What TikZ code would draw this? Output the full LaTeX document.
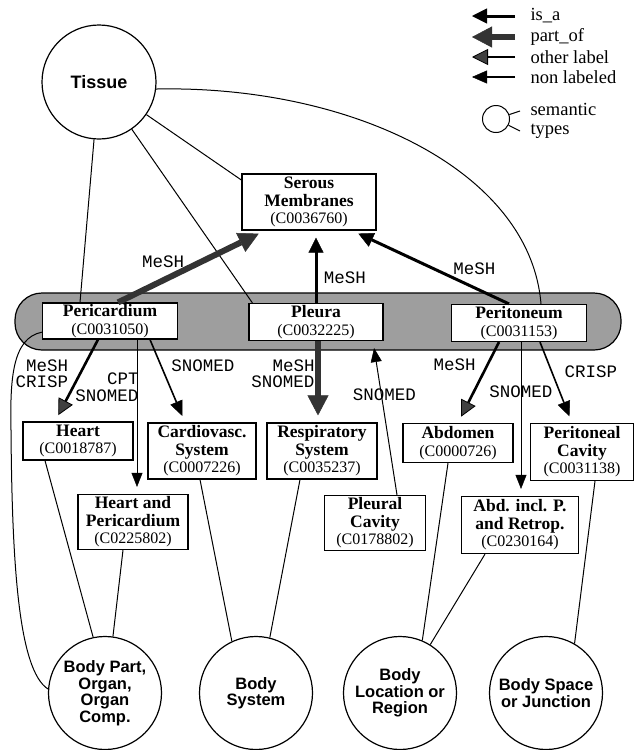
\documentclass[tikz,border=0pt]{standalone}
\usepackage{fontspec}
\setmainfont{Liberation Serif}
\setmonofont{Liberation Mono}
\newfontfamily\helv{Liberation Sans}
\usetikzlibrary{arrows.meta, calc}
\newcommand{\cname}[1]{{\fontsize{17.5}{17.5}\selectfont\bfseries #1}}

\begin{document}
\begin{tikzpicture}[
    x=1pt, y=-1pt, line width=1pt,
    cbox/.style={draw, line width=1.2pt, fill=white, inner sep=1pt, align=center, font=\fontsize{16}{17.5}\selectfont},
    stype/.style={circle, draw, line width=1.2pt, minimum size=113pt, inner sep=0pt, align=center, font=\helv\bfseries\fontsize{16.5}{16.5}\selectfont},
    src/.style={font=\ttfamily\fontsize{17.5}{16.5}\selectfont, inner sep=0pt, align=right},
    lgd/.style={anchor=west, inner sep=0pt, align=left, font=\fontsize{18.5}{18.5}\selectfont},
    isa/.style={line width=3pt, -{Triangle[length=15pt,width=15pt,line width=0.5pt]}},
    partof/.style={line width=6pt, draw=black!80, -{Triangle[length=20pt,width=21pt,line width=0.5pt]}},
    otherlbl/.style={line width=2.6pt, -{Triangle[length=16pt,width=16pt,line width=0.8pt,fill=black!75]}},
    nolbl/.style={line width=1.6pt, -{Triangle[length=15pt,width=13pt,line width=0.5pt]}},
    thinarrow/.style={line width=1pt, -{Triangle[length=14pt,width=11pt,line width=0.5pt]}},
]
\useasboundingbox (0,0) rectangle (636,750);

% shaded group of the three membranes
\draw[fill=black!38, line width=1.2pt, rounded corners=27pt] (15,293) rectangle (621,350);

% semantic types
\node[stype, minimum size=114pt, font=\helv\bfseries\fontsize{18}{18}\selectfont] (tissue) at (99,82) {Tissue};
\node[stype] (bpart) at (105,693) {Body Part,\\Organ,\\Organ\\Comp.};
\node[stype] (bsys) at (256,693) {Body\\System};
\node[stype] (bloc) at (400,693) {Body\\Location or\\Region};
\node[stype] (bspace) at (546,693) {Body Space\\or Junction};

% concepts
\node[cbox, minimum width=134pt, minimum height=56pt] (serous) at (309,202) {\cname{Serous}\\\cname{Membranes}\\(C0036760)};
\node[cbox, minimum width=135pt, minimum height=36pt] (peric) at (110,321) {\cname{Pericardium}\\(C0031050)};
\node[cbox, minimum width=134pt, minimum height=37pt] (pleura) at (316,322) {\cname{Pleura}\\(C0032225)};
\node[cbox, minimum width=135pt, minimum height=37pt] (perit) at (519,323) {\cname{Peritoneum}\\(C0031153)};
\node[cbox, minimum width=110pt, minimum height=38pt] (heart) at (78,441) {\cname{Heart}\\(C0018787)};
\node[cbox, minimum width=108pt, minimum height=56pt] (cardio) at (202,451) {\cname{Cardiovasc.}\\\cname{System}\\(C0007226)};
\node[cbox, minimum width=110pt, minimum height=56pt] (resp) at (322,451) {\cname{Respiratory}\\\cname{System}\\(C0035237)};
\node[cbox, minimum width=110pt, minimum height=39pt] (abdomen) at (458,443) {\cname{Abdomen}\\(C0000726)};
\node[cbox, minimum width=103pt, minimum height=57pt] (pcav) at (582,452) {\cname{Peritoneal}\\\cname{Cavity}\\(C0031138)};
\node[cbox, minimum width=110pt, minimum height=55pt] (hap) at (133,522) {\cname{Heart and}\\\cname{Pericardium}\\(C0225802)};
\node[cbox, minimum width=101pt, minimum height=55pt] (plcav) at (375,523) {\cname{Pleural}\\\cname{Cavity}\\(C0178802)};
\node[cbox, minimum width=117pt, minimum height=57pt] (abdinc) at (520,525) {\cname{Abd. incl. P.}\\\cname{and Retrop.}\\(C0230164)};

% legend
\node[lgd] (lgisa) at (530,16) {is\_a};
\node[lgd] (lgpart) at (530,37) {part\_of};
\node[lgd] (lgother) at (530,57) {other label};
\node[lgd] (lgnone) at (530,77) {non labeled};
\draw[isa] ([xshift=-15pt]lgisa.west) -- ([xshift=-58pt]lgisa.west);
\draw[partof] ([xshift=-15pt]lgpart.west) -- ([xshift=-58pt]lgpart.west);
\draw[otherlbl] ([xshift=-15pt]lgother.west) -- ([xshift=-58pt]lgother.west);
\draw[nolbl] ([xshift=-15pt]lgnone.west) -- ([xshift=-58pt]lgnone.west);
\node[circle, draw, minimum size=27pt, inner sep=0pt] (lgcirc) at (496,119) {};
\node[lgd] (lgsem) at (530,121) {semantic\\types};
\coordinate (lgup) at (520,111);
\coordinate (lgdn) at (520,131);
\draw (lgcirc) -- (lgup);
\draw (lgcirc) -- (lgdn);

% links to semantic types
\draw (tissue) -- (serous.162);
\draw (tissue) -- ([xshift=-30pt]peric.north);
\draw (tissue) -- ([xshift=4pt]pleura.north west);
\draw (tissue.-7) .. controls (350,85) and (530,170) .. ([xshift=22pt]perit.north);
\draw ($(peric.west)!0.6!(peric.south west)$) .. controls (12,338) and (10,380) .. (11,430)
    .. controls (12,560) and (18,670) .. (bpart.176);
\draw ([xshift=-33pt]heart.south) -- (bpart.102);
\draw ([xshift=-10pt]hap.south) -- (bpart.82);
\draw ([xshift=-2pt]cardio.south) -- (bsys.115);
\draw ([xshift=-22pt]resp.south) -- (bsys.76);
\draw ([xshift=-10pt]abdomen.south) -- (bloc.67);
\draw ([xshift=-35pt]abdinc.south) -- (bloc.58);
\draw ([xshift=13pt]pcav.south) -- (bspace.60);

% relations between concepts
\begin{scope}[shorten >=7pt]
\draw[partof] ([xshift=8pt]peric.north) -- ([xshift=-44pt]serous.south)
    node[src, pos=0.3, xshift=1pt, yshift=19pt] {MeSH};
\draw[isa] (pleura.north) -- (pleura.north |- serous.south)
    node[src, pos=0.35, xshift=29pt] {MeSH};
\draw[isa] ([xshift=-10pt]perit.north) -- ([xshift=43pt]serous.south)
    node[src, pos=0.22, yshift=19pt] {MeSH};
\draw[otherlbl] ([xshift=-12pt]peric.south) -- ([xshift=-23pt]heart.north)
    node[src, pos=0.42, xshift=-38pt] {MeSH\\CRISP};
\draw[thinarrow] ([xshift=27pt]peric.south) -- ([xshift=4pt]hap.north)
    node[src, pos=0.31, xshift=-30pt] {CPT\\SNOMED};
\draw[nolbl] ([xshift=40pt]peric.south) -- ([xshift=-17pt]cardio.north)
    node[src, pos=0.31, xshift=42pt] {SNOMED};
\draw[partof] ([xshift=2pt]pleura.south) -- ([xshift=-4pt]resp.north)
    node[src, pos=0.4, xshift=-35pt] {MeSH\\SNOMED};
\draw[thinarrow] ([xshift=22pt]plcav.north) -- ([xshift=57pt]pleura.south)
    node[src, pos=0.65, xshift=3pt] {SNOMED};
\draw[otherlbl] ([xshift=-20pt]perit.south) -- (abdomen.north)
    node[src, pos=0.28, xshift=-33pt] {MeSH};
\draw[thinarrow] ([xshift=2pt]perit.south) -- ([xshift=1pt]abdinc.north)
    node[src, pos=0.32] {SNOMED};
\draw[nolbl] ([xshift=21pt]perit.south) -- ([xshift=-10pt]pcav.north)
    node[src, pos=0.37, xshift=39pt] {CRISP};
\end{scope}

\end{tikzpicture}
\end{document}
